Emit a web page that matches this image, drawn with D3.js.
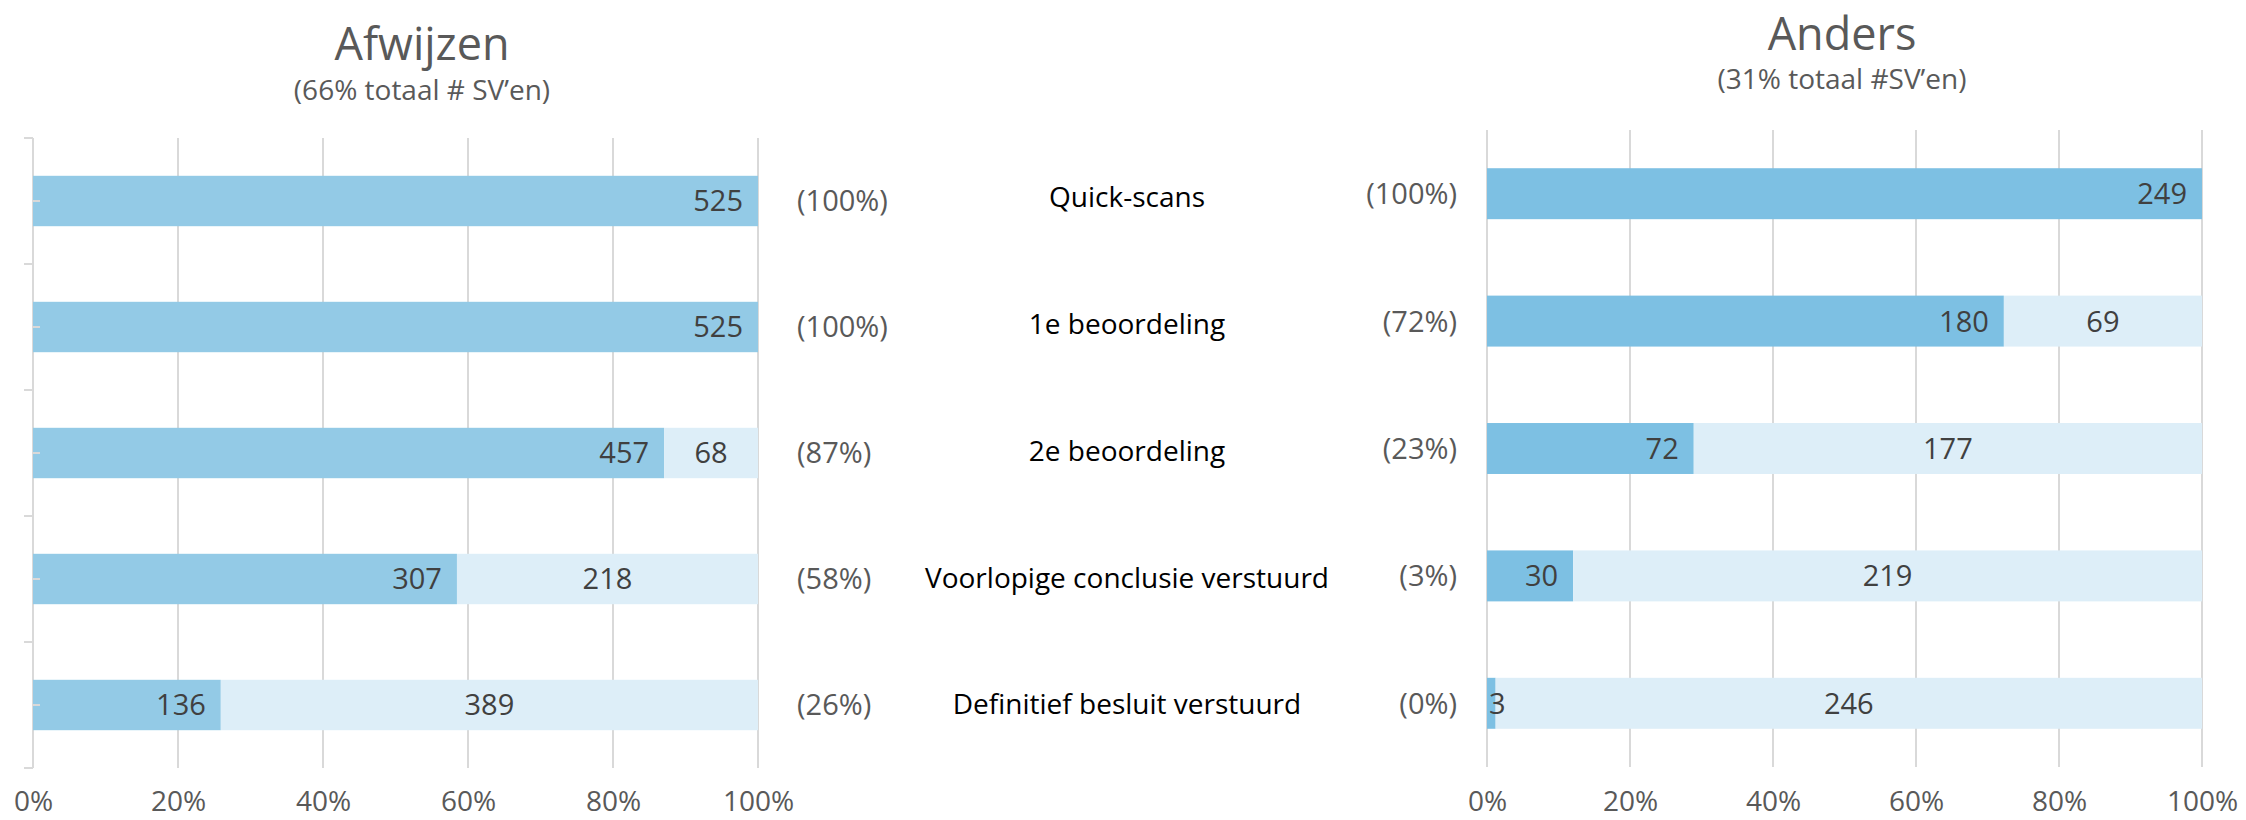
<!DOCTYPE html>
<html><head><meta charset="utf-8">
<script src="https://cdn.jsdelivr.net/npm/d3@7"></script>
<style>
html,body{margin:0;padding:0;background:#fff;}
svg text{font-family:"Open Sans","Noto Sans",sans-serif;}
</style></head>
<body>
<svg id="chart" width="2246" height="820"></svg>
<script>
const categories = ["Quick-scans","1e beoordeling","2e beoordeling","Voorlopige conclusie verstuurd","Definitief besluit verstuurd"];
const afwijzenDone = [525,525,457,307,136];
const afwijzenRest = [0,0,68,218,389];
const afwijzenPct = ["(100%)","(100%)","(87%)","(58%)","(26%)"];
const andersDone = [249,180,72,30,3];
const andersRest = [0,69,177,219,246];
const andersPct = ["(100%)","(72%)","(23%)","(3%)","(0%)"];
const xTickValues = [0,0.2,0.4,0.6,0.8,1.0];
const titles = ["Afwijzen","Anders"];
const subtitles = ["(66% totaal # SV\u2019en)","(31% totaal #SV\u2019en)"];

const svg = d3.select("#chart");
const gridColor = "#d9d9d9", textGray = "#595959", valueColor = "#404040";

const panels = [
  {done:afwijzenDone, rest:afwijzenRest, pct:afwijzenPct, x0:33, x1:758, y0:138, y1:768,
   dark:"#93cae6", light:"#ddeef8", title:titles[0], sub:subtitles[0], tx:422, ty:60, sy:100,
   axis:true, pctX:797, pctAnchor:"start"},
  {done:andersDone, rest:andersRest, pct:andersPct, x0:1487, x1:2202, y0:130, y1:767,
   dark:"#7dc0e3", light:"#ddeef8", title:titles[1], sub:subtitles[1], tx:1842, ty:50, sy:89,
   axis:false, pctX:1457, pctAnchor:"end"}
];

panels.forEach((p,pi)=>{
  const x = d3.scaleLinear().domain([0,1]).range([p.x0,p.x1]);
  const y = d3.scaleBand().domain(categories).range([p.y0,p.y1]).paddingInner(0.6).paddingOuter(0.3);
  p.x = x; p.y = y;
  const g = svg.append("g");
  const clipId = "clip"+pi;
  svg.append("clipPath").attr("id",clipId).append("rect")
    .attr("x",p.x0+1).attr("y",p.y0).attr("width",p.x1-p.x0).attr("height",p.y1-p.y0);

  // gridlines
  g.append("g").selectAll("line").data(xTickValues).join("line")
    .attr("x1",d=>x(d)).attr("x2",d=>x(d)).attr("y1",p.y0).attr("y2",p.y1)
    .attr("stroke",gridColor).attr("stroke-width",2);

  // x tick labels
  const xAxis = d3.axisBottom(x).tickValues(xTickValues).tickFormat(d3.format(".0%")).tickSize(0).tickPadding(0);
  const ax = g.append("g").attr("transform",`translate(0,${801})`).call(xAxis);
  ax.select(".domain").remove();
  ax.selectAll("text").attr("font-size",28).attr("fill",textGray).attr("dy","0.35em")
    .style("font-family","'Open Sans','Noto Sans',sans-serif");

  // left axis
  if(p.axis){
    g.append("line").attr("x1",p.x0).attr("x2",p.x0).attr("y1",p.y0).attr("y2",p.y1)
      .attr("stroke",gridColor).attr("stroke-width",2);
    g.append("g").selectAll("line").data([p.y0].concat(categories.slice(1).map(c=>y(c)-y.step()*y.paddingInner()/2)).concat([p.y1])).join("line")
      .attr("x1",p.x0-9).attr("x2",p.x0).attr("y1",d=>d).attr("y2",d=>d)
      .attr("stroke",gridColor).attr("stroke-width",2);
  }

  const rows = categories.map((c,i)=>({c, done:p.done[i], rest:p.rest[i], total:p.done[i]+p.rest[i], pct:p.pct[i]}));
  const bars = g.append("g");
  bars.selectAll("rect.dark").data(rows).join("rect").attr("class","dark")
    .attr("x",p.x0).attr("y",d=>y(d.c)).attr("height",y.bandwidth())
    .attr("width",d=>x(d.done/d.total)-p.x0).attr("fill",p.dark);
  bars.selectAll("rect.light").data(rows.filter(d=>d.rest>0)).join("rect").attr("class","light")
    .attr("x",d=>x(d.done/d.total)).attr("y",d=>y(d.c)).attr("height",y.bandwidth())
    .attr("width",d=>p.x1-x(d.done/d.total)).attr("fill",p.light);

  if(p.axis){
    g.append("g").selectAll("line").data(categories).join("line")
      .attr("x1",p.x0).attr("x2",p.x0+7).attr("y1",d=>y(d)+y.bandwidth()/2).attr("y2",d=>y(d)+y.bandwidth()/2)
      .attr("stroke",gridColor).attr("stroke-width",2);
  }

  // value labels
  const lab = g.append("g").attr("clip-path",`url(#${clipId})`);
  const fs = 29;
  lab.selectAll("text.dv").data(rows).join("text").attr("class","dv")
    .attr("y",d=>y(d.c)+y.bandwidth()/2).attr("dy","0.36em")
    .attr("text-anchor","end").attr("font-size",fs).attr("fill",valueColor)
    .text(d=>d.done)
    .attr("x",function(d){
      const w = this.getComputedTextLength();
      return Math.max(x(d.done/d.total)-15, p.x0+w+2);
    });
  lab.selectAll("text.lv").data(rows.filter(d=>d.rest>0)).join("text").attr("class","lv")
    .attr("x",d=>(x(d.done/d.total)+p.x1)/2)
    .attr("y",d=>y(d.c)+y.bandwidth()/2).attr("dy","0.36em")
    .attr("text-anchor","middle").attr("font-size",fs).attr("fill",valueColor)
    .text(d=>d.rest);

  // percent labels
  g.append("g").selectAll("text").data(rows).join("text")
    .attr("x",p.pctX).attr("y",d=>y(d.c)+y.bandwidth()/2).attr("dy","0.36em")
    .attr("text-anchor",p.pctAnchor).attr("font-size",29).attr("fill",textGray)
    .text(d=>d.pct);

  // titles
  svg.append("text").attr("x",p.tx).attr("y",p.ty).attr("text-anchor","middle")
    .attr("font-size",45).attr("fill",textGray).text(p.title);
  svg.append("text").attr("x",p.tx).attr("y",p.sy).attr("text-anchor","middle")
    .attr("font-size",28).attr("fill",textGray).text(p.sub);
});

// category labels in the middle
const yl = panels[0].y, yr = panels[1].y;
svg.append("g").selectAll("text").data(categories).join("text")
  .attr("x",1127)
  .attr("y",d=>((yl(d)+yl.bandwidth()/2)+(yr(d)+yr.bandwidth()/2))/2)
  .attr("dy","0.36em").attr("text-anchor","middle").attr("font-size",28).attr("fill","#000")
  .text(d=>d);
</script>
</body></html>
